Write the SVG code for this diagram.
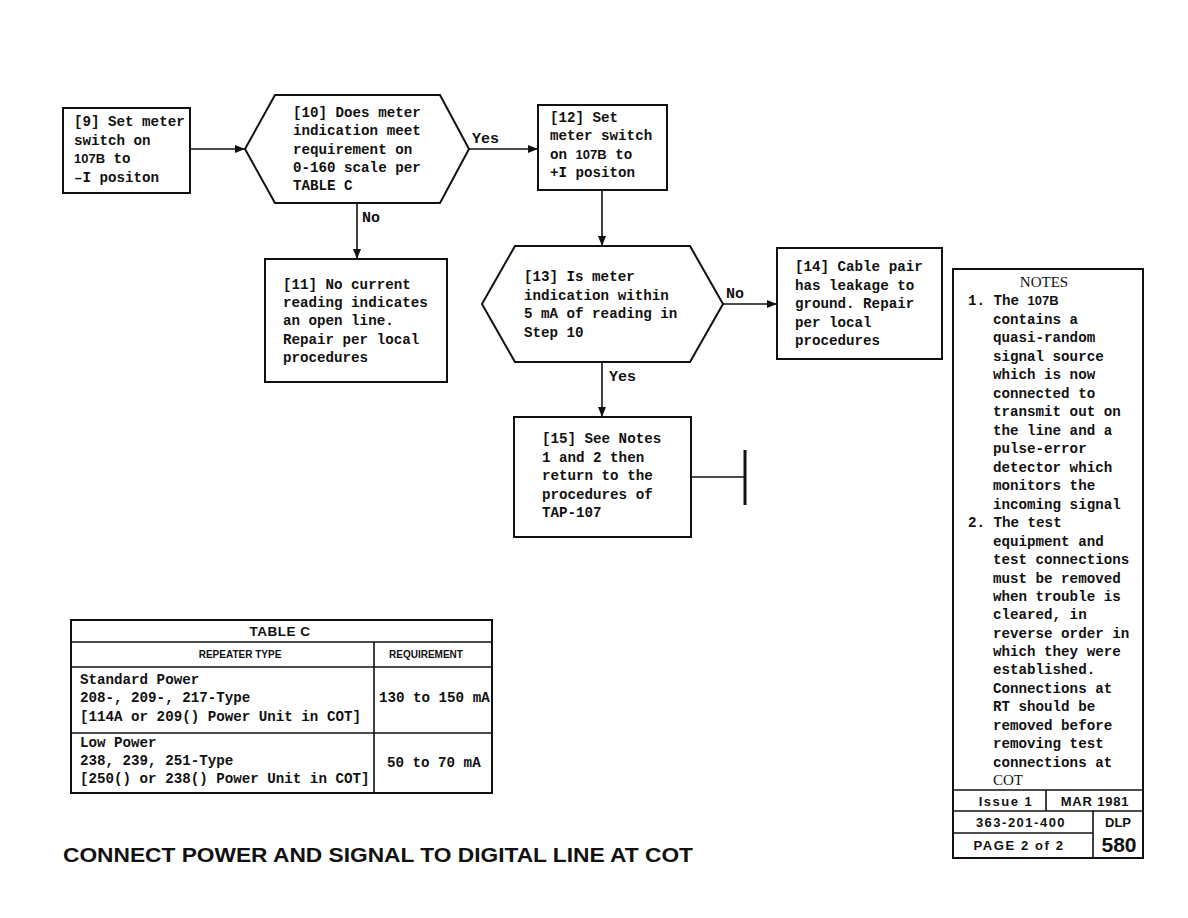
<svg xmlns="http://www.w3.org/2000/svg" width="1188" height="918" viewBox="0 0 1188 918">
<style>
.bg{fill:#fff}
.box{fill:#fff;stroke:#111;stroke-width:2}
.ln{fill:none;stroke:#111;stroke-width:1.6}
.t{font-family:"Liberation Mono",monospace;font-size:14.2px;font-weight:bold;fill:#111}
.b{font-family:"Liberation Sans",Arial,sans-serif;font-weight:bold;font-size:13px}
.lbl{font-family:"Liberation Mono",monospace;font-size:15px;font-weight:bold;fill:#111}
.hd{font-family:"Liberation Sans",Arial,sans-serif;font-weight:bold;fill:#111}
.sf{font-family:"Liberation Serif",serif;font-size:15px;fill:#111}
</style>
<defs>
<marker id="ah" viewBox="0 0 10 10" refX="10" refY="5" markerWidth="10" markerHeight="10" markerUnits="userSpaceOnUse" orient="auto">
<path d="M0,1 L10,5 L0,9 Z" fill="#111"/>
</marker>
</defs>
<rect class="bg" width="1188" height="918"/>

<g id="connectors">
<line class="ln" x1="190" y1="149" x2="245" y2="149" marker-end="url(#ah)"/>
<line class="ln" x1="469" y1="149" x2="538" y2="149" marker-end="url(#ah)"/>
<text class="lbl" x="472" y="143">Yes</text>
<line class="ln" x1="357" y1="203" x2="357" y2="259" marker-end="url(#ah)"/>
<text class="lbl" x="362" y="222">No</text>
<line class="ln" x1="602" y1="190" x2="602" y2="246" marker-end="url(#ah)"/>
<line class="ln" x1="723" y1="304" x2="777" y2="304" marker-end="url(#ah)"/>
<text class="lbl" x="726" y="298">No</text>
<line class="ln" x1="602" y1="362" x2="602" y2="417" marker-end="url(#ah)"/>
<text class="lbl" x="609" y="381">Yes</text>
<line class="ln" x1="691" y1="477" x2="745" y2="477"/>
<line x1="745" y1="450" x2="745" y2="505" stroke="#111" stroke-width="3"/>
</g>

<g id="n9">
<rect class="box" x="63" y="108" width="127" height="85"/>
<text class="t" x="74" y="126">[9] Set meter</text>
<text class="t" x="74" y="145">switch on</text>
<text class="t" x="74" y="163"><tspan class="b">107B</tspan> to</text>
<text class="t" x="74" y="182">–I positon</text>
</g>

<g id="n10">
<polygon class="box" points="245,149 275,95 440,95 469,149 440,203 275,203"/>
<text class="t" x="293" y="117">[10] Does meter</text>
<text class="t" x="293" y="135">indication meet</text>
<text class="t" x="293" y="154">requirement on</text>
<text class="t" x="293" y="172">0-160 scale per</text>
<text class="t" x="293" y="190">TABLE C</text>
</g>

<g id="n12">
<rect class="box" x="538" y="105" width="129" height="85"/>
<text class="t" x="550" y="122">[12] Set</text>
<text class="t" x="550" y="140">meter switch</text>
<text class="t" x="550" y="159">on <tspan class="b">107B</tspan> to</text>
<text class="t" x="550" y="177">+I positon</text>
</g>

<g id="n11">
<rect class="box" x="265" y="259" width="182" height="123"/>
<text class="t" x="283" y="289">[11] No current</text>
<text class="t" x="283" y="307">reading indicates</text>
<text class="t" x="283" y="325">an open line.</text>
<text class="t" x="283" y="344">Repair per local</text>
<text class="t" x="283" y="362">procedures</text>
</g>

<g id="n13">
<polygon class="box" points="482,304 515,246 690,246 723,304 690,362 515,362"/>
<text class="t" x="524" y="281">[13] Is meter</text>
<text class="t" x="524" y="300">indication within</text>
<text class="t" x="524" y="318">5 mA of reading in</text>
<text class="t" x="524" y="337">Step 10</text>
</g>

<g id="n14">
<rect class="box" x="777" y="248" width="165" height="111"/>
<text class="t" x="795" y="271">[14] Cable pair</text>
<text class="t" x="795" y="290">has leakage to</text>
<text class="t" x="795" y="308">ground. Repair</text>
<text class="t" x="795" y="327">per local</text>
<text class="t" x="795" y="345">procedures</text>
</g>

<g id="n15">
<rect class="box" x="514" y="417" width="177" height="120"/>
<text class="t" x="542" y="443">[15] See Notes</text>
<text class="t" x="542" y="462">1 and 2 then</text>
<text class="t" x="542" y="480">return to the</text>
<text class="t" x="542" y="499">procedures of</text>
<text class="t" x="542" y="517">TAP-107</text>
</g>

<g id="tableC">
<rect class="box" x="71" y="620" width="421" height="173"/>
<line class="ln" x1="71" y1="642" x2="492" y2="642"/>
<line class="ln" x1="71" y1="667" x2="492" y2="667"/>
<line class="ln" x1="71" y1="733" x2="492" y2="733"/>
<line class="ln" x1="374" y1="642" x2="374" y2="793"/>
<text class="hd" x="280" y="636" font-size="13.5" text-anchor="middle" letter-spacing="0.5">TABLE C</text>
<text class="hd" x="240" y="658" font-size="10" text-anchor="middle">REPEATER TYPE</text>
<text class="hd" x="426" y="658" font-size="10" text-anchor="middle">REQUIREMENT</text>
<text class="t" x="80" y="684">Standard Power</text>
<text class="t" x="80" y="702">208-, 209-, 217-Type</text>
<text class="t" x="80" y="721">[114A or 209() Power Unit in COT]</text>
<text class="t" x="379" y="702">130 to 150 mA</text>
<text class="t" x="80" y="747">Low Power</text>
<text class="t" x="80" y="765">238, 239, 251-Type</text>
<text class="t" x="80" y="783">[250() or 238() Power Unit in COT]</text>
<text class="t" x="387" y="767">50 to 70 mA</text>
</g>

<g id="notes">
<rect class="box" x="953" y="269" width="190" height="589"/>
<text class="sf" x="1044" y="287" text-anchor="middle">NOTES</text>
<text class="t" x="968" y="305">1. The <tspan class="b">107B</tspan></text>
<text class="t" x="993" y="324">contains a</text>
<text class="t" x="993" y="342">quasi-random</text>
<text class="t" x="993" y="361">signal source</text>
<text class="t" x="993" y="379">which is now</text>
<text class="t" x="993" y="398">connected to</text>
<text class="t" x="993" y="416">transmit out on</text>
<text class="t" x="993" y="435">the line and a</text>
<text class="t" x="993" y="453">pulse-error</text>
<text class="t" x="993" y="472">detector which</text>
<text class="t" x="993" y="490">monitors the</text>
<text class="t" x="993" y="509">incoming signal</text>
<text class="t" x="968" y="527">2. The test</text>
<text class="t" x="993" y="546">equipment and</text>
<text class="t" x="993" y="564">test connections</text>
<text class="t" x="993" y="583">must be removed</text>
<text class="t" x="993" y="601">when trouble is</text>
<text class="t" x="993" y="619">cleared, in</text>
<text class="t" x="993" y="638">reverse order in</text>
<text class="t" x="993" y="656">which they were</text>
<text class="t" x="993" y="674">established.</text>
<text class="t" x="993" y="693">Connections at</text>
<text class="t" x="993" y="711">RT should be</text>
<text class="t" x="993" y="730">removed before</text>
<text class="t" x="993" y="748">removing test</text>
<text class="t" x="993" y="767">connections at</text>
<text class="sf" x="993" y="785">COT</text>
<line class="ln" x1="953" y1="790" x2="1143" y2="790"/>
<line class="ln" x1="953" y1="811" x2="1143" y2="811"/>
<line class="ln" x1="953" y1="833" x2="1093" y2="833"/>
<line class="ln" x1="1046" y1="790" x2="1046" y2="811"/>
<line class="ln" x1="1093" y1="811" x2="1093" y2="858"/>
<text class="hd" x="1006" y="806" font-size="13" text-anchor="middle" letter-spacing="1.5">Issue 1</text>
<text class="hd" x="1095" y="806" font-size="13" text-anchor="middle" letter-spacing="0.8">MAR 1981</text>
<text class="hd" x="1021" y="827" font-size="13" text-anchor="middle" letter-spacing="1.5">363-201-400</text>
<text class="hd" x="1118" y="827" font-size="13" text-anchor="middle">DLP</text>
<text class="hd" x="1019" y="850" font-size="13" text-anchor="middle" letter-spacing="1.6">PAGE 2 of 2</text>
<text class="hd" x="1119" y="852" font-size="21" text-anchor="middle">580</text>
</g>

<g id="title">
<text class="hd" x="63" y="862" font-size="20" textLength="630" lengthAdjust="spacingAndGlyphs">CONNECT POWER AND SIGNAL TO DIGITAL LINE AT COT</text>
</g>
</svg>
